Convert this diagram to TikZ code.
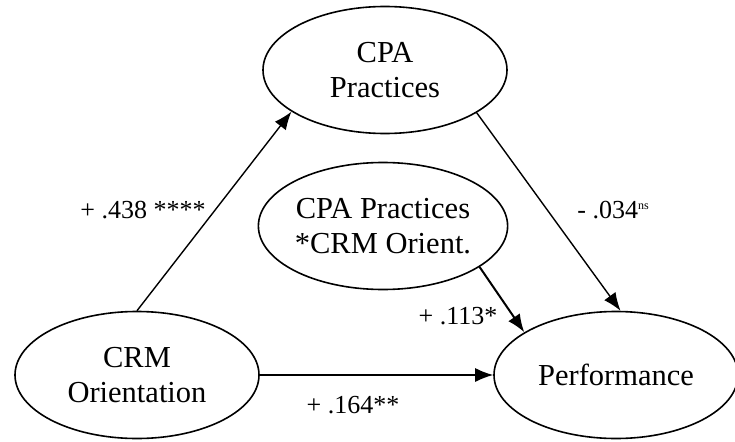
\documentclass[tikz,border=0pt]{standalone}
\usepackage{fontspec}
\setmainfont{Liberation Serif}
\usetikzlibrary{shapes.geometric,arrows.meta}
\begin{document}
\begin{tikzpicture}[x=1pt,y=-1pt,
  ell/.style={ellipse,draw,line width=1.6pt,minimum width=244pt,minimum height=127pt,inner sep=0pt,align=center,font=\fontsize{30.5}{35.5}\selectfont},
  lab/.style={font=\fontsize{26}{30}\selectfont,inner sep=0pt},
  conn/.style={line width=1.4pt,-{Latex[length=18pt,width=14pt]}}]
\useasboundingbox (0,0) rectangle (735,441);
\node[ell] (cpa) at (385,70) {CPA\\Practices};
\node[ell] (inter) at (383,226) {CPA Practices\\*CRM Orient.};
\node[ell] (crm) at (137,375) {CRM\\Orientation};
\node[ell] (perf) at (616,375) {Performance};
\draw[conn] (crm.north) -- (cpa.204);
\draw[conn] (cpa.-25) -- (perf.86);
\draw[conn,line width=2pt] (inter.-23) -- (perf.155);
\draw[conn] (crm.east) -- (perf.west);
\node[lab] (l1) at (143,210) {+ .438 ****};
\node[lab] (l2) at (613,210) {- .034\raisebox{9pt}{\fontsize{12}{12}\selectfont ns}};
\node[lab] (l3) at (458,316) {+ .113*};
\node[lab] (l4) at (353,405) {+ .164**};
\end{tikzpicture}
\end{document}
